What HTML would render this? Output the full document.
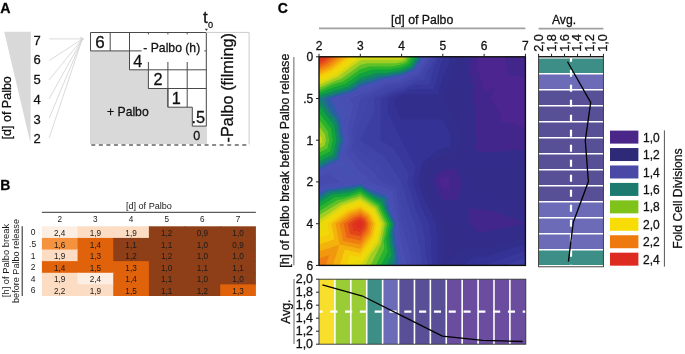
<!DOCTYPE html>
<html><head><meta charset="utf-8">
<style>
html,body{margin:0;padding:0;background:#fff;}
body{width:685px;height:354px;overflow:hidden;position:relative;}
svg{position:absolute;left:0;top:0;will-change:transform;}
text{font-family:"Liberation Sans",sans-serif;fill:#111;stroke:#111;stroke-width:0.28px;}
.b{font-weight:bold;fill:#000;}
.sm text{stroke:none;fill:#1a1a1a;}
</style></head><body>
<svg width="685" height="354" viewBox="0 0 685 354">
<!-- ============ PANEL A ============ -->
<text class="b" x="0.2" y="12.5" font-size="14.2">A</text>
<polygon points="4.2,31.8 30.8,31.8 30.5,143.2" fill="#d9d9d9"/>
<g font-size="13">
<text x="33.4" y="44.5">7</text>
<text x="33.4" y="64.2">6</text>
<text x="33.4" y="84">5</text>
<text x="33.4" y="103.7">4</text>
<text x="33.4" y="123.5">3</text>
<text x="33.4" y="143.2">2</text>
</g>
<g stroke="#d6d6d6" stroke-width="0.9" fill="none">
<line x1="49.2" y1="38.9" x2="82" y2="38.9"/>
<line x1="49.2" y1="60.5" x2="82" y2="39.2"/>
<line x1="49.2" y1="79.8" x2="82" y2="39.4"/>
<line x1="49.2" y1="98.8" x2="82" y2="39.6"/>
<line x1="49.2" y1="118.1" x2="82" y2="39.7"/>
<line x1="49.2" y1="137.8" x2="82" y2="39.8"/>
</g>
<polygon points="84.6,38.9 80,36.4 80.8,38.9 80,41.4" fill="#d6d6d6"/>
<!-- rotated label -->
<text transform="translate(11,107.8) rotate(-90)" text-anchor="middle" font-size="12.5">[d] of Palbo</text>

<!-- staircase box -->
<rect x="90" y="32.5" width="117" height="111.5" fill="#d9d9d9"/>
<path d="M90.5 32.5 H206.3 V126.1 H192.3 V107.2 H167.9 V88.5 H148.4 V69.8 H129.5 V50.9 H90.5 Z" fill="#fff"/>
<!-- grid lines -->
<g stroke="#4a4a4a" stroke-width="1" fill="none">
<path d="M90.5 50.9 V32.5 H206.3 V126.1 H192.3 V107.2 H167.9 V88.5 H148.4 V69.8 H129.5 V50.9 H90.5"/>
<line x1="110.2" y1="32.5" x2="110.2" y2="50.9"/>
<line x1="129.5" y1="32.5" x2="129.5" y2="50.9"/>
<line x1="167.9" y1="69.8" x2="167.9" y2="107.2"/>
<line x1="187.2" y1="69.8" x2="187.2" y2="107.2"/>
<line x1="148.4" y1="69.8" x2="206.3" y2="69.8"/>
<line x1="148.4" y1="88.5" x2="206.3" y2="88.5"/>
<line x1="148.4" y1="32.5" x2="148.4" y2="69.8"/>
<line x1="167.9" y1="32.5" x2="167.9" y2="69.8"/>
<line x1="187.2" y1="32.5" x2="187.2" y2="69.8"/>
<line x1="129.5" y1="50.9" x2="206.3" y2="50.9"/>
</g>
<rect x="141.6" y="34.4" width="62.8" height="27.6" fill="#fff"/>
<text x="143.3" y="51.6" font-size="12.2">- Palbo (h)</text>
<g font-size="17"><text x="95.2" y="48.4">6</text></g>
<g font-size="16.3">
<text x="133.2" y="66.5">4</text>
<text x="153.5" y="84.6">2</text>
<text x="171.7" y="104">1</text>
<text x="191.4" y="122.8">.5</text>
</g>
<text x="193.2" y="140" font-size="12.5">0</text>
<text x="107" y="115.9" font-size="12.2">+ Palbo</text>
<!-- filming box -->
<path d="M206.3 32.4 H249.1 V144" stroke="#cccccc" stroke-width="1" fill="none"/>
<line x1="91.3" y1="145" x2="250" y2="145" stroke="#8a8a8a" stroke-width="1.8" stroke-dasharray="4,3.55"/>
<text transform="translate(232.8,87.7) rotate(-90)" text-anchor="middle" font-size="16.3">-Palbo (filming)</text>
<polygon points="204.9,28.8 207.9,28.8 206.4,31" fill="#333"/>
<text x="203" y="22.6" font-size="17">t</text>
<text x="207.9" y="27.6" font-size="9.2">0</text>

<!-- ============ PANEL B ============ -->
<text class="b" x="0.3" y="190" font-size="14">B</text>
<g class="sm">
<text x="148.9" y="208.6" text-anchor="middle" font-size="9.1">[d] of Palbo</text>
<line x1="41.9" y1="212.3" x2="255.9" y2="212.3" stroke="#333" stroke-width="1"/>
<g font-size="8.2" text-anchor="middle">
<text x="59.75" y="221.8">2</text><text x="95.4" y="221.8">3</text><text x="131.05" y="221.8">4</text>
<text x="166.75" y="221.8">5</text><text x="202.4" y="221.8">6</text><text x="238.05" y="221.8">7</text>
</g>
<line x1="22.2" y1="226.3" x2="22.2" y2="296" stroke="#333" stroke-width="1.1"/>
<g font-size="8.5" text-anchor="middle">
<text x="33" y="235.4">0</text><text x="32.6" y="247">.5</text><text x="33" y="258.6">1</text>
<text x="33" y="270.2">2</text><text x="33" y="281.8">4</text><text x="33" y="293.4">6</text>
</g>
<text transform="translate(8.9,260.5) rotate(-90)" text-anchor="middle" font-size="9.35">[h] of Palbo break</text>
<text transform="translate(19.3,261) rotate(-90)" text-anchor="middle" font-size="9.1">before Palbo release</text>
<rect x="41.90" y="226.30" width="36.67" height="12.62" fill="#fdeee4"/>
<rect x="77.57" y="226.30" width="36.67" height="12.62" fill="#fcdcc2"/>
<rect x="113.23" y="226.30" width="36.67" height="12.62" fill="#fcdcc2"/>
<rect x="148.90" y="226.30" width="36.67" height="12.62" fill="#8e3f17"/>
<rect x="184.57" y="226.30" width="36.67" height="12.62" fill="#8e3f17"/>
<rect x="220.23" y="226.30" width="35.67" height="12.62" fill="#8e3f17"/>
<rect x="41.90" y="237.92" width="36.67" height="12.62" fill="#f5923e"/>
<rect x="77.57" y="237.92" width="36.67" height="12.62" fill="#e0620a"/>
<rect x="113.23" y="237.92" width="36.67" height="12.62" fill="#8e3f17"/>
<rect x="148.90" y="237.92" width="36.67" height="12.62" fill="#8e3f17"/>
<rect x="184.57" y="237.92" width="36.67" height="12.62" fill="#8e3f17"/>
<rect x="220.23" y="237.92" width="35.67" height="12.62" fill="#8e3f17"/>
<rect x="41.90" y="249.53" width="36.67" height="12.62" fill="#fcdcc2"/>
<rect x="77.57" y="249.53" width="36.67" height="12.62" fill="#e0620a"/>
<rect x="113.23" y="249.53" width="36.67" height="12.62" fill="#8e3f17"/>
<rect x="148.90" y="249.53" width="36.67" height="12.62" fill="#8e3f17"/>
<rect x="184.57" y="249.53" width="36.67" height="12.62" fill="#8e3f17"/>
<rect x="220.23" y="249.53" width="35.67" height="12.62" fill="#8e3f17"/>
<rect x="41.90" y="261.15" width="36.67" height="12.62" fill="#e0620a"/>
<rect x="77.57" y="261.15" width="36.67" height="12.62" fill="#e0620a"/>
<rect x="113.23" y="261.15" width="36.67" height="12.62" fill="#e0620a"/>
<rect x="148.90" y="261.15" width="36.67" height="12.62" fill="#8e3f17"/>
<rect x="184.57" y="261.15" width="36.67" height="12.62" fill="#8e3f17"/>
<rect x="220.23" y="261.15" width="35.67" height="12.62" fill="#8e3f17"/>
<rect x="41.90" y="272.77" width="36.67" height="12.62" fill="#fcdcc2"/>
<rect x="77.57" y="272.77" width="36.67" height="12.62" fill="#fdeee4"/>
<rect x="113.23" y="272.77" width="36.67" height="12.62" fill="#e0620a"/>
<rect x="148.90" y="272.77" width="36.67" height="12.62" fill="#8e3f17"/>
<rect x="184.57" y="272.77" width="36.67" height="12.62" fill="#8e3f17"/>
<rect x="220.23" y="272.77" width="35.67" height="12.62" fill="#8e3f17"/>
<rect x="41.90" y="284.38" width="36.67" height="11.62" fill="#fcdcc2"/>
<rect x="77.57" y="284.38" width="36.67" height="11.62" fill="#fcdcc2"/>
<rect x="113.23" y="284.38" width="36.67" height="11.62" fill="#e0620a"/>
<rect x="148.90" y="284.38" width="36.67" height="11.62" fill="#8e3f17"/>
<rect x="184.57" y="284.38" width="36.67" height="11.62" fill="#8e3f17"/>
<rect x="220.23" y="284.38" width="35.67" height="11.62" fill="#e0620a"/>
<g font-size="8.2" text-anchor="middle" style="fill:#222;stroke:none">
<text x="59.73" y="235.90">2,4</text>
<text x="95.40" y="235.90">1,9</text>
<text x="131.07" y="235.90">1,9</text>
<text x="166.73" y="235.90">1,2</text>
<text x="202.40" y="235.90">0,9</text>
<text x="238.07" y="235.90">1,0</text>
<text x="59.73" y="247.52">1,6</text>
<text x="95.40" y="247.52">1,4</text>
<text x="131.07" y="247.52">1,1</text>
<text x="166.73" y="247.52">1,1</text>
<text x="202.40" y="247.52">1,0</text>
<text x="238.07" y="247.52">0,9</text>
<text x="59.73" y="259.13">1,9</text>
<text x="95.40" y="259.13">1,3</text>
<text x="131.07" y="259.13">1,2</text>
<text x="166.73" y="259.13">1,2</text>
<text x="202.40" y="259.13">1,0</text>
<text x="238.07" y="259.13">1,0</text>
<text x="59.73" y="270.75">1,4</text>
<text x="95.40" y="270.75">1,5</text>
<text x="131.07" y="270.75">1,3</text>
<text x="166.73" y="270.75">1,0</text>
<text x="202.40" y="270.75">1,1</text>
<text x="238.07" y="270.75">1,1</text>
<text x="59.73" y="282.37">1,9</text>
<text x="95.40" y="282.37">2,4</text>
<text x="131.07" y="282.37">1,4</text>
<text x="166.73" y="282.37">1,1</text>
<text x="202.40" y="282.37">1,0</text>
<text x="238.07" y="282.37">1,0</text>
<text x="59.73" y="293.98">2,2</text>
<text x="95.40" y="293.98">1,9</text>
<text x="131.07" y="293.98">1,5</text>
<text x="166.73" y="293.98">1,1</text>
<text x="202.40" y="293.98">1,2</text>
<text x="238.07" y="293.98">1,3</text>
</g>
</g>

<!-- ============ PANEL C ============ -->
<text class="b" x="277.8" y="12.8" font-size="14">C</text>
<text x="422.2" y="23.9" text-anchor="middle" font-size="12.3">[d] of Palbo</text>
<line x1="319" y1="28.4" x2="525.4" y2="28.4" stroke="#a0a0a0" stroke-width="1.6"/>
<g font-size="12" text-anchor="middle">
<text x="319" y="49.5">2</text><text x="360.3" y="49.5">3</text><text x="401.6" y="49.5">4</text>
<text x="442.8" y="49.5">5</text><text x="484.1" y="49.5">6</text><text x="525.4" y="49.5">7</text>
</g>
<g font-size="12" text-anchor="end">
<text x="313.3" y="61.1">0</text><text x="313.3" y="102.8">.5</text><text x="313.3" y="144.5">1</text>
<text x="313.3" y="186.3">2</text><text x="313.3" y="228">4</text><text x="313.3" y="269.7">6</text>
</g>
<text transform="translate(289.2,160.7) rotate(-90)" text-anchor="middle" font-size="12.35">[h] of Palbo break before Palbo release</text>
<line x1="293.8" y1="57" x2="293.8" y2="265.3" stroke="#a0a0a0" stroke-width="1.6"/>
<!-- contour -->
<g>
<rect x="319.0" y="56.8" width="206.4" height="208.6" fill="#4c2490"/>
<path fill="#4c2590" d="M319.0 56.8L360.3 56.8L401.6 56.8L442.8 56.8L484.1 56.8L525.4 56.8L525.4 98.5L525.4 140.2L525.4 182.0L525.4 223.7L525.4 265.4L484.1 265.4L442.8 265.4L401.6 265.4L360.3 265.4L319.0 265.4L319.0 223.7L319.0 182.0L319.0 140.2L319.0 98.5Z"/>
<path fill="#43268c" d="M477.2 56.8L476.7 64.2L484.1 91.6L494.4 88.1L491.0 98.5L500.6 115.2L500.6 123.6L507.1 121.7L525.4 128.3L525.4 140.2L525.4 182.0L525.4 223.7L525.4 265.4L484.1 265.4L442.8 265.4L401.6 265.4L360.3 265.4L319.0 265.4L319.0 223.7L319.0 182.0L319.0 140.2L319.0 98.5L319.0 56.8L360.3 56.8L401.6 56.8L442.8 56.8ZM525.4 77.7L508.2 74.2L504.8 56.8L525.4 56.8ZM440.2 179.3L439.6 182.0L440.5 184.4L442.8 188.9L449.2 188.4L449.7 182.0L447.8 177.0L442.8 177.5Z"/>
<path fill="#342c8a" d="M470.4 56.8L469.4 71.7L473.8 88.1L472.3 98.5L475.4 107.3L475.4 131.5L477.2 140.2L474.4 150.1L484.1 152.2L495.5 151.7L515.5 150.3L525.4 149.9L525.4 182.0L525.4 223.7L525.4 265.4L484.1 265.4L442.8 265.4L401.6 265.4L360.3 265.4L319.0 265.4L319.0 223.7L319.0 182.0L319.0 140.2L319.0 98.5L319.0 56.8L360.3 56.8L401.6 56.8L442.8 56.8ZM525.4 56.8M435.8 174.9L434.1 182.0L436.5 188.4L442.8 200.5L459.8 199.1L461.2 182.0L456.0 168.6L442.8 170.0ZM468.8 208.2L470.4 223.7L476.6 231.3L484.1 232.0L490.5 230.1L525.4 223.7L495.9 211.8L484.1 209.8Z"/>
<path fill="#332d89" d="M463.5 56.8L462.2 76.4L460.0 81.1L457.6 98.5L464.6 118.3L464.6 120.5L468.6 140.2L462.8 160.4L442.8 162.6L431.4 170.4L428.7 182.0L432.5 192.4L442.8 212.1L455.3 211.0L456.6 223.7L469.1 238.9L484.1 240.4L496.8 236.5L516.2 233.0L525.4 230.6L525.4 265.4L484.1 265.4L442.8 265.4L401.6 265.4L360.3 265.4L319.0 265.4L319.0 223.7L319.0 182.0L319.0 140.2L319.0 98.5L319.0 56.8L360.3 56.8L401.6 56.8L442.8 56.8ZM525.4 202.8L508.9 198.6L500.6 198.6L484.1 195.9L471.6 194.6L472.7 182.0L465.4 163.0L484.1 167.1L499.4 166.5L510.1 166.5L525.4 165.9L525.4 182.0Z"/>
<path fill="#322e8c" d="M456.6 56.8L455.7 69.8L442.8 98.5L457.1 125.9L460.0 140.2L456.2 153.7L442.8 155.1L427.0 166.0L423.3 182.0L428.6 196.4L442.8 223.7L442.8 265.4L465.8 246.9L484.1 248.7L503.2 242.9L507.1 242.2L525.4 237.6L525.4 265.4L484.1 265.4L442.8 265.4L401.6 265.4L360.3 265.4L319.0 265.4L319.0 223.7L319.0 182.0L319.0 140.2L319.0 98.5L319.0 56.8L360.3 56.8L401.6 56.8L442.8 56.8ZM525.4 182.0L484.1 182.0Z"/>
<path fill="#343294" d="M449.7 56.8L449.3 63.3L442.8 77.7L438.3 93.9L406.1 93.9L401.6 95.9L399.4 96.3L394.7 98.5L394.7 105.5L401.6 119.4L422.2 119.4L422.2 119.4L442.8 119.4L450.0 133.0L451.4 140.2L449.5 147.0L442.8 147.7L422.6 161.5L417.9 182.0L424.6 200.4L429.9 210.6L436.0 223.7L436.9 229.6L436.9 259.4L437.7 265.4L401.6 265.4L360.3 265.4L319.0 265.4L319.0 223.7L319.0 182.0L319.0 140.2L319.0 98.5L319.0 56.8L360.3 56.8L401.6 56.8L442.8 56.8ZM463.5 265.4L474.9 256.1L484.1 257.1L495.9 253.5L508.9 248.7L525.4 244.5L525.4 265.4L484.1 265.4Z"/>
<path fill="#38379c" d="M442.8 56.8L433.7 89.2L410.7 89.2L401.6 93.3L397.2 94.1L387.8 98.5L387.8 112.4L401.6 140.2L442.8 140.2L401.6 140.2L415.8 167.6L412.4 182.0L418.8 199.3L420.3 204.7L429.1 223.7L431.0 235.6L431.0 253.5L432.5 265.4L401.6 265.4L360.3 265.4L319.0 265.4L319.0 223.7L319.0 182.0L319.0 140.2L319.0 98.5L319.0 56.8L360.3 56.8L401.6 56.8ZM484.1 265.4L514.4 254.3L525.4 251.5L525.4 265.4Z"/>
<path fill="#3c3ea2" d="M439.9 56.8L434.6 65.1L429.1 84.6L415.3 84.6L401.6 90.7L395.0 91.9L380.9 98.5L380.9 119.4L380.9 140.2L393.3 148.6L401.6 161.1L408.7 174.8L407.0 182.0L410.2 190.7L415.6 209.5L422.2 223.7L425.1 241.6L425.1 247.5L427.4 265.4L401.6 265.4L360.3 265.4L319.0 265.4L319.0 223.7L319.0 182.0L319.0 140.2L319.0 98.5L319.0 56.8L360.3 56.8L401.6 56.8ZM504.8 265.4L519.9 259.8L525.4 258.4L525.4 265.4Z"/>
<path fill="#4043a7" d="M436.9 56.8L426.3 73.5L424.5 80.0L419.9 80.0L401.6 88.1L392.9 89.7L374.0 98.5L374.0 112.4L360.3 140.2L385.0 156.9L401.6 182.0L410.9 214.2L415.3 223.7L418.1 240.4L419.9 246.9L422.2 265.4L401.6 265.4L360.3 265.4L319.0 265.4L319.0 223.7L319.0 182.0L319.0 140.2L319.0 98.5L319.0 56.8L360.3 56.8L401.6 56.8ZM525.4 265.4"/>
<path fill="#4246aa" d="M434.0 56.8L421.3 76.8L401.6 85.5L390.7 87.5L367.2 98.5L367.2 105.5L360.3 119.4L356.2 136.1L356.8 140.2L355.7 144.9L360.3 150.7L378.0 164.1L391.2 182.0L398.6 184.9L401.6 202.8L406.3 218.9L408.4 223.7L409.8 232.0L415.3 251.5L417.0 265.4L401.6 265.4L360.3 265.4L319.0 265.4L319.0 223.7L319.0 182.0L319.0 140.2L319.0 98.5L319.0 56.8L360.3 56.8L401.6 56.8Z"/>
<path fill="#4649ad" d="M431.0 56.8L419.5 74.9L401.6 82.9L388.5 85.3L360.3 98.5L352.0 131.9L353.4 140.2L351.1 149.5L360.3 161.1L372.1 170.0L380.9 182.0L395.7 187.9L401.6 223.7L410.7 256.1L411.9 265.4L401.6 265.4L360.3 265.4L319.0 265.4L319.0 223.7L319.0 182.0L319.0 140.2L319.0 98.5L319.0 56.8L360.3 56.8L401.6 56.8Z"/>
<path fill="#484eb2" d="M428.1 56.8L417.7 73.1L401.6 80.3L386.4 83.1L366.2 92.6L360.3 94.3L357.9 96.1L350.0 98.5L353.4 105.5L347.9 127.7L350.0 140.2L346.5 154.1L360.3 171.5L366.2 176.0L370.6 182.0L392.7 190.9L397.4 219.5L399.5 223.7L399.0 226.3L401.6 244.5L406.1 260.8L406.7 265.4L401.6 265.4L360.3 265.4L319.0 265.4L319.0 223.7L319.0 186.1L321.6 184.6L339.6 182.0L327.3 173.6L319.0 177.8L319.0 140.2L319.0 98.5L319.0 56.8L360.3 56.8L401.6 56.8Z"/>
<path fill="#4750b3" d="M425.1 56.8L415.9 71.3L401.6 77.7L384.2 81.0L372.1 86.6L360.3 90.2L355.4 93.6L339.6 98.5L346.5 112.4L343.8 123.6L346.5 140.2L341.9 158.8L360.3 182.0L389.8 193.9L393.3 215.3L397.4 223.7L396.4 228.9L401.6 265.4L360.3 265.4L319.0 265.4L319.0 223.7L319.0 190.3L324.2 187.2L360.3 182.0L335.5 165.3L319.0 173.6L319.0 140.2L319.0 98.5L319.0 56.8L360.3 56.8L401.6 56.8Z"/>
<path fill="#2a5ea5" d="M422.5 56.8L414.3 69.7L401.6 75.3L382.2 79.0L377.4 81.2L360.3 86.4L353.2 91.4L330.4 98.5L340.3 118.7L340.1 119.8L343.4 140.2L338.5 160.0L319.0 169.9L319.0 140.2L319.0 98.5L319.0 56.8L360.3 56.8L401.6 56.8ZM319.0 194.1L326.5 189.5L357.2 185.1L360.3 184.0L366.5 188.2L387.1 196.6L389.6 211.6L395.6 223.7L394.1 231.2L398.5 262.3L396.9 265.4L360.3 265.4L319.0 265.4L319.0 223.7Z"/>
<path fill="#1a767f" d="M420.7 56.8L413.2 68.6L401.6 73.7L380.9 77.7L380.9 77.7L360.3 83.9L351.8 89.9L324.2 98.5L329.3 109.0L338.2 120.9L341.4 140.2L336.9 158.3L319.0 167.4L319.0 140.2L319.0 98.5L319.0 56.8L360.3 56.8L401.6 56.8ZM319.0 196.6L328.0 191.1L355.1 187.2L360.3 185.4L370.6 192.4L385.3 198.4L387.1 209.1L394.3 223.7L392.5 232.8L396.4 260.2L393.8 265.4L360.3 265.4L319.0 265.4L319.0 223.7Z"/>
<path fill="#118862" d="M418.8 56.8L412.1 67.4L401.6 72.1L383.0 75.6L378.9 75.6L360.3 81.2L350.2 88.4L319.6 97.9L319.0 98.2L319.0 56.8L360.3 56.8L401.6 56.8ZM319.0 199.2L329.7 192.8L352.9 189.4L360.3 186.9L375.0 196.8L383.5 200.3L384.5 206.4L393.0 223.7L390.9 234.5L394.2 258.0L390.5 265.4L360.3 265.4L319.0 265.4L319.0 223.7ZM319.0 99.5L336.3 122.8L339.2 140.2L335.1 156.5L319.0 164.7L319.0 140.2Z"/>
<path fill="#11a13f" d="M416.5 56.8L410.6 66.0L401.6 70.0L385.5 73.0L376.3 73.0L360.3 77.9L348.3 86.4L323.3 94.2L319.0 96.1L319.0 56.8L360.3 56.8L401.6 56.8ZM319.0 202.6L331.7 194.8L350.2 192.2L360.3 188.8L380.5 202.4L381.1 202.6L381.2 203.1L391.4 223.7L388.8 236.6L391.4 255.2L386.4 265.4L360.3 265.4L319.0 265.4L319.0 223.7ZM319.0 105.1L333.9 125.2L336.4 140.2L332.9 154.3L319.0 161.4L319.0 140.2Z"/>
<path fill="#2cb32d" d="M413.4 56.8L408.7 64.1L401.6 67.2L388.9 69.6L373.0 69.6L360.3 73.5L345.7 83.8L328.2 89.2L319.0 93.3L319.0 56.8L360.3 56.8L401.6 56.8ZM319.0 207.0L334.5 197.6L346.5 195.9L360.3 191.2L379.5 204.2L389.2 223.7L386.1 239.3L387.8 251.5L380.9 265.4L360.3 265.4L319.0 265.4L319.0 223.7ZM319.0 112.4L330.8 128.3L332.8 140.2L330.0 151.4L319.0 156.9L319.0 140.2Z"/>
<path fill="#60c028" d="M410.4 56.8L406.9 62.2L401.6 64.6L392.0 66.4L369.8 66.4L360.3 69.3L343.3 81.3L332.8 84.6L319.0 90.7L319.0 56.8L360.3 56.8L401.6 56.8ZM319.0 211.2L337.1 200.2L343.1 199.3L360.3 193.5L378.2 205.6L387.1 223.7L383.5 241.9L384.4 248.0L375.8 265.4L360.3 265.4L319.0 265.4L319.0 223.7ZM319.0 119.4L327.8 131.3L329.3 140.2L327.3 148.6L319.0 152.8L319.0 140.2Z"/>
<path fill="#a0ce22" d="M407.5 56.8L405.1 60.4L401.6 62.0L395.2 63.2L366.6 63.2L360.3 65.1L340.9 78.9L337.3 80.0L319.0 88.1L319.0 56.8L360.3 56.8L401.6 56.8ZM319.0 215.3L339.6 202.8L339.6 202.8L360.3 195.9L376.8 207.0L385.0 223.7L380.9 244.5L380.9 244.5L370.6 265.4L360.3 265.4L319.0 265.4L319.0 223.7ZM319.0 126.3L324.9 134.3L325.9 140.2L324.5 145.8L319.0 148.6L319.0 140.2Z"/>
<path fill="#d1d714" d="M404.3 56.8L403.2 58.5L401.6 59.2L398.6 59.8L363.2 59.8L360.3 60.6L347.6 69.6L338.6 76.6L319.0 85.3L319.0 56.8L360.3 56.8L401.6 56.8ZM319.0 219.8L328.5 214.1L341.5 204.7L360.3 198.4L375.3 208.5L382.8 223.7L379.1 242.7L369.8 255.8L365.0 265.4L360.3 265.4L319.0 265.4L319.0 223.7ZM319.0 133.8L321.7 137.5L322.2 140.2L321.5 142.8L319.0 144.1L319.0 140.2Z"/>
<path fill="#e7da0d" d="M401.6 56.8L360.3 56.8L336.9 74.9L319.0 82.9L319.0 56.8L360.3 56.8ZM319.0 223.7L343.1 206.3L360.3 200.5L374.0 209.8L380.9 223.7L377.5 241.1L360.3 265.4L319.0 265.4ZM319.0 140.2"/>
<path fill="#f0d809" d="M356.2 56.8L335.2 73.1L319.0 80.3L319.0 56.8ZM319.0 230.6L324.2 228.9L323.1 223.7L344.8 208.0L360.3 202.8L372.7 211.2L378.9 223.7L375.8 239.3L360.3 261.2L355.1 260.2L353.4 265.4L319.0 265.4Z"/>
<path fill="#f5cc09" d="M352.0 56.8L333.4 71.3L319.0 77.7L319.0 56.8ZM319.0 237.6L329.3 234.1L327.3 223.7L346.5 209.8L360.3 205.1L371.3 212.6L376.8 223.7L374.0 237.6L360.3 257.1L350.0 255.0L346.5 265.4L319.0 265.4Z"/>
<path fill="#f4b20c" d="M347.9 56.8L331.6 69.5L319.0 75.1L319.0 56.8ZM319.0 244.5L334.5 239.3L331.4 223.7L348.2 211.5L360.3 207.5L369.9 213.9L374.7 223.7L372.3 235.8L360.3 252.9L344.8 249.8L339.6 265.4L319.0 265.4Z"/>
<path fill="#f2980e" d="M343.8 56.8L329.8 67.7L319.0 72.4L319.0 56.8ZM319.0 251.5L339.6 244.5L335.5 223.7L350.0 213.2L360.3 209.8L368.5 215.3L372.7 223.7L370.6 234.1L360.3 248.7L339.6 244.5L332.8 265.4L319.0 265.4Z"/>
<path fill="#ef7d11" d="M339.6 56.8L328.0 65.9L319.0 69.8L319.0 56.8ZM319.0 258.4L329.3 255.0L325.9 265.4L319.0 265.4ZM360.3 212.1L367.2 216.7L370.6 223.7L368.9 232.4L360.3 244.5L343.1 241.1L339.6 223.7L351.7 215.0Z"/>
<path fill="#ea6016" d="M335.5 56.8L326.2 64.1L319.0 67.2L319.0 56.8ZM319.0 265.4M360.3 214.4L365.8 218.1L368.5 223.7L367.2 230.6L360.3 240.4L346.5 237.6L343.8 223.7L353.4 216.7Z"/>
<path fill="#e3451b" d="M331.4 56.8L324.4 62.2L319.0 64.6L319.0 56.8ZM360.3 216.7L364.4 219.5L366.5 223.7L365.4 228.9L360.3 236.2L350.0 234.1L347.9 223.7L355.1 218.5Z"/>
<path fill="#df341e" d="M327.3 56.8L322.6 60.4L319.0 62.0L319.0 56.8ZM360.3 219.0L363.0 220.9L364.4 223.7L363.7 227.2L360.3 232.0L353.4 230.6L352.0 223.7L356.8 220.2Z"/>
<path fill="#dd2d1f" d="M323.1 56.8L320.8 58.6L319.0 59.4L319.0 56.8ZM360.3 221.4L361.7 222.3L362.3 223.7L362.0 225.4L360.3 227.9L356.8 227.2L356.2 223.7L358.6 221.9Z"/>
<path fill="#dc2a1f" d="M319.0 56.8M360.3 223.7"/>
</g>
<rect x="319" y="56.8" width="206.4" height="208.6" fill="none" stroke="#111" stroke-width="1.4"/>
<g stroke="#222" stroke-width="1">
<path d="M319 53.8V56.8M360.3 53.8V56.8M401.6 53.8V56.8M442.8 53.8V56.8M484.1 53.8V56.8M525.4 53.8V56.8"/>
<path d="M316 56.8H319M316 98.5H319M316 140.2H319M316 181.9H319M316 223.7H319M316 265.4H319"/>
</g>

<!-- side bar -->
<rect x="538.60" y="57.70" width="64.80" height="16.01" fill="#3c8e86"/>
<rect x="538.60" y="73.71" width="64.80" height="16.01" fill="#6b6bb8"/>
<rect x="538.60" y="89.72" width="64.80" height="16.01" fill="#575096"/>
<rect x="538.60" y="105.73" width="64.80" height="16.01" fill="#575096"/>
<rect x="538.60" y="121.74" width="64.80" height="16.01" fill="#575096"/>
<rect x="538.60" y="137.75" width="64.80" height="16.01" fill="#575096"/>
<rect x="538.60" y="153.76" width="64.80" height="16.01" fill="#575096"/>
<rect x="538.60" y="169.77" width="64.80" height="16.01" fill="#575096"/>
<rect x="538.60" y="185.78" width="64.80" height="16.01" fill="#575096"/>
<rect x="538.60" y="201.79" width="64.80" height="16.01" fill="#6b6bb8"/>
<rect x="538.60" y="217.80" width="64.80" height="16.01" fill="#6b6bb8"/>
<rect x="538.60" y="233.81" width="64.80" height="16.01" fill="#6b6bb8"/>
<rect x="538.60" y="249.82" width="64.80" height="16.01" fill="#3c8e86"/>
<line x1="538.60" y1="57.70" x2="603.40" y2="57.70" stroke="#fff" stroke-width="1.6"/>
<line x1="538.60" y1="73.71" x2="603.40" y2="73.71" stroke="#fff" stroke-width="1.6"/>
<line x1="538.60" y1="89.72" x2="603.40" y2="89.72" stroke="#fff" stroke-width="1.6"/>
<line x1="538.60" y1="105.73" x2="603.40" y2="105.73" stroke="#fff" stroke-width="1.6"/>
<line x1="538.60" y1="121.74" x2="603.40" y2="121.74" stroke="#fff" stroke-width="1.6"/>
<line x1="538.60" y1="137.75" x2="603.40" y2="137.75" stroke="#fff" stroke-width="1.6"/>
<line x1="538.60" y1="153.76" x2="603.40" y2="153.76" stroke="#fff" stroke-width="1.6"/>
<line x1="538.60" y1="169.77" x2="603.40" y2="169.77" stroke="#fff" stroke-width="1.6"/>
<line x1="538.60" y1="185.78" x2="603.40" y2="185.78" stroke="#fff" stroke-width="1.6"/>
<line x1="538.60" y1="201.79" x2="603.40" y2="201.79" stroke="#fff" stroke-width="1.6"/>
<line x1="538.60" y1="217.80" x2="603.40" y2="217.80" stroke="#fff" stroke-width="1.6"/>
<line x1="538.60" y1="233.81" x2="603.40" y2="233.81" stroke="#fff" stroke-width="1.6"/>
<line x1="538.60" y1="249.82" x2="603.40" y2="249.82" stroke="#fff" stroke-width="1.6"/>
<line x1="538.60" y1="265.83" x2="603.40" y2="265.83" stroke="#fff" stroke-width="1.6"/>
<line x1="571" y1="56.8" x2="571" y2="266.8" stroke="#fff" stroke-width="2.2" stroke-dasharray="7.1,7.9" stroke-dashoffset="2.1"/>
<polyline points="567.5,61.8 590.7,102.4 585.3,140.6 588.4,181.6 573.3,222.2 568.4,261.7" fill="none" stroke="#000" stroke-width="1.3"/>
<rect x="538.60" y="56.80" width="64.80" height="210.00" fill="none" stroke="#333" stroke-width="0.9"/>
<line x1="538.10" y1="56.6" x2="603.90" y2="56.6" stroke="#1a1a1a" stroke-width="1.1"/>
<path d="M538.60 53.8V56.8M551.56 53.8V56.8M564.52 53.8V56.8M577.48 53.8V56.8M590.44 53.8V56.8M603.40 53.8V56.8" stroke="#222" stroke-width="1"/>
<g font-size="12.8">
<text transform="translate(542.60,51.8) rotate(-90)">2,0</text>
<text transform="translate(555.56,51.8) rotate(-90)">1,8</text>
<text transform="translate(568.52,51.8) rotate(-90)">1,6</text>
<text transform="translate(581.48,51.8) rotate(-90)">1,4</text>
<text transform="translate(594.44,51.8) rotate(-90)">1,2</text>
<text transform="translate(607.40,51.8) rotate(-90)">1,0</text>
</g>
<text x="564" y="23.8" text-anchor="middle" font-size="12.2">Avg.</text>
<line x1="538.6" y1="28.6" x2="603.4" y2="28.6" stroke="#a0a0a0" stroke-width="1.6"/>

<!-- bottom bar -->
<rect x="319.00" y="279.20" width="15.91" height="65.00" fill="#f8df2c"/>
<rect x="334.91" y="279.20" width="15.91" height="65.00" fill="#9acd35"/>
<rect x="350.82" y="279.20" width="15.91" height="65.00" fill="#9acd35"/>
<rect x="366.72" y="279.20" width="15.91" height="65.00" fill="#3c8e86"/>
<rect x="382.63" y="279.20" width="15.91" height="65.00" fill="#6b6bb8"/>
<rect x="398.54" y="279.20" width="15.91" height="65.00" fill="#575096"/>
<rect x="414.45" y="279.20" width="15.91" height="65.00" fill="#575096"/>
<rect x="430.35" y="279.20" width="15.91" height="65.00" fill="#575096"/>
<rect x="446.26" y="279.20" width="15.91" height="65.00" fill="#6a4d9f"/>
<rect x="462.17" y="279.20" width="15.91" height="65.00" fill="#6a4d9f"/>
<rect x="478.08" y="279.20" width="15.91" height="65.00" fill="#6a4d9f"/>
<rect x="493.98" y="279.20" width="15.91" height="65.00" fill="#6a4d9f"/>
<rect x="509.89" y="279.20" width="15.91" height="65.00" fill="#6a4d9f"/>
<line x1="334.91" y1="279.20" x2="334.91" y2="344.20" stroke="#fff" stroke-width="1.6"/>
<line x1="350.82" y1="279.20" x2="350.82" y2="344.20" stroke="#fff" stroke-width="1.6"/>
<line x1="366.72" y1="279.20" x2="366.72" y2="344.20" stroke="#fff" stroke-width="1.6"/>
<line x1="382.63" y1="279.20" x2="382.63" y2="344.20" stroke="#fff" stroke-width="1.6"/>
<line x1="398.54" y1="279.20" x2="398.54" y2="344.20" stroke="#fff" stroke-width="1.6"/>
<line x1="414.45" y1="279.20" x2="414.45" y2="344.20" stroke="#fff" stroke-width="1.6"/>
<line x1="430.35" y1="279.20" x2="430.35" y2="344.20" stroke="#fff" stroke-width="1.6"/>
<line x1="446.26" y1="279.20" x2="446.26" y2="344.20" stroke="#fff" stroke-width="1.6"/>
<line x1="462.17" y1="279.20" x2="462.17" y2="344.20" stroke="#fff" stroke-width="1.6"/>
<line x1="478.08" y1="279.20" x2="478.08" y2="344.20" stroke="#fff" stroke-width="1.6"/>
<line x1="493.98" y1="279.20" x2="493.98" y2="344.20" stroke="#fff" stroke-width="1.6"/>
<line x1="509.89" y1="279.20" x2="509.89" y2="344.20" stroke="#fff" stroke-width="1.6"/>
<line x1="319.0" y1="311.7" x2="525.8" y2="311.7" stroke="#fff" stroke-width="2.2" stroke-dasharray="7.1,7.7" stroke-dashoffset="3.5"/>
<polyline points="322.4,284.9 362.5,296 402.5,316.2 442.4,336.2 482.5,340.4 522.7,341.5" fill="none" stroke="#000" stroke-width="1.3"/>
<rect x="319.00" y="279.20" width="206.80" height="65.00" fill="none" stroke="#333" stroke-width="0.9"/>
<path d="M316 279.20H319.0M316 292.20H319.0M316 305.20H319.0M316 318.20H319.0M316 331.20H319.0M316 344.20H319.0" stroke="#222" stroke-width="1"/>
<g font-size="12.4" text-anchor="end">
<text x="313.0" y="282.80">2,0</text>
<text x="313.0" y="295.80">1,8</text>
<text x="313.0" y="308.80">1,6</text>
<text x="313.0" y="321.80">1,4</text>
<text x="313.0" y="334.80">1,2</text>
<text x="313.0" y="347.80">1,0</text>
</g>
<text transform="translate(289.6,311.7) rotate(-90)" text-anchor="middle" font-size="12.2">Avg.</text>
<line x1="294" y1="279" x2="294" y2="344" stroke="#a0a0a0" stroke-width="1.6"/>

<!-- legend -->
<rect x="610" y="130.60" width="28.4" height="13" fill="#4a2689"/>
<text x="643" y="141.70" font-size="12">1,0</text>
<rect x="610" y="148.04" width="28.4" height="13" fill="#2f2a78"/>
<text x="643" y="159.14" font-size="12">1,2</text>
<rect x="610" y="165.48" width="28.4" height="13" fill="#4a4aa6"/>
<text x="643" y="176.58" font-size="12">1,4</text>
<rect x="610" y="182.92" width="28.4" height="13" fill="#1d7a6e"/>
<text x="643" y="194.02" font-size="12">1,6</text>
<rect x="610" y="200.36" width="28.4" height="13" fill="#7fc31a"/>
<text x="643" y="211.46" font-size="12">1,8</text>
<rect x="610" y="217.80" width="28.4" height="13" fill="#f7dc05"/>
<text x="643" y="228.90" font-size="12">2,0</text>
<rect x="610" y="235.24" width="28.4" height="13" fill="#ee790f"/>
<text x="643" y="246.34" font-size="12">2,2</text>
<rect x="610" y="252.68" width="28.4" height="13" fill="#dd2b1f"/>
<text x="643" y="263.78" font-size="12">2,4</text>
<line x1="664.4" y1="130.4" x2="664.4" y2="266.6" stroke="#555" stroke-width="1"/>
<text transform="translate(681.6,198.5) rotate(-90)" text-anchor="middle" font-size="12.2">Fold Cell Divisions</text>
</svg>
</body></html>
